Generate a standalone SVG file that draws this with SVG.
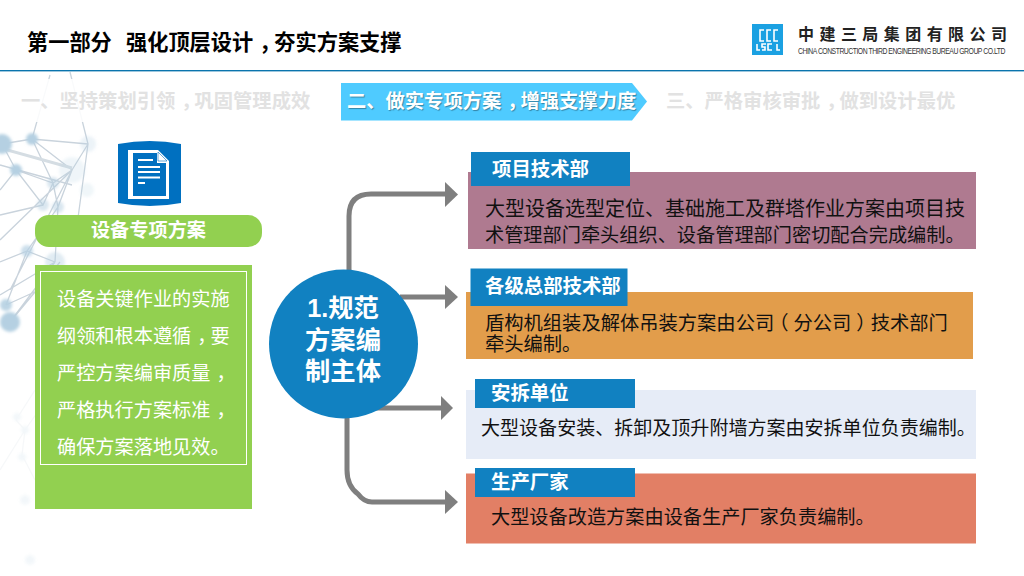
<svg xmlns="http://www.w3.org/2000/svg" width="1024" height="576" viewBox="0 0 1024 576">
<style>
text{font-family:"Liberation Sans","Noto Sans CJK SC",sans-serif}
.t{font-weight:700;font-size:21.2px;fill:#000}
.tab{font-weight:700;font-size:19.3px;fill:#e2e2e2}
.hd{font-weight:700;font-size:19.4px;fill:#fff}
.bd{font-size:19.3px;fill:#111}
.pn{font-size:19.2px;fill:#fff}
.ci{font-weight:700;font-size:25.3px;fill:#fff;text-anchor:middle}
.cm{letter-spacing:-6px}
.pr{letter-spacing:-5px}
.hb{fill:#1181c1}
.cn{fill:none;stroke:#7f7f7f;stroke-width:5}
.ah{fill:#7f7f7f}
.nw{stroke:#c9d3dc;stroke-width:1.3;fill:none}
.nd{fill:#b5d0e2}
</style>
<defs><filter id="b" x="-50%" y="-50%" width="200%" height="200%"><feGaussianBlur stdDeviation="1.500"/></filter></defs>
<rect width="1024" height="576" fill="#fff"/>
<g id="background">
<path class="nw" d="M2 144L32 139L88 144M2 144L16 170L53 183L72 170L32 139L53 183M16 170L0 190M16 170L43 205L53 183M53 183L58 207L27 251L0 262M72 170L88 144L70 72M32 139L50 75M72 170L58 207L55 262M43 205L0 215M27 251L6 305M55 262L10 322M27 251L55 262M72 170L10 290M0 240L72 170M10 322L60 262M6 305L50 285M0 165L72 185M88 144L75 240M0 295L55 262"/>
<path d="M0 148L72 168" stroke="#d5dde3" stroke-width="3" fill="none"/>
<g filter="url(#b)">
<circle class="nd" cx="2" cy="144" r="10"/><circle class="nd" cx="32" cy="139" r="6"/><circle class="nd" cx="16" cy="170" r="6"/><circle class="nd" cx="53" cy="183" r="6" opacity=".5"/><circle class="nd" cx="72" cy="170" r="13" opacity=".22"/><circle class="nd" cx="88" cy="144" r="8" opacity=".25"/><circle class="nd" cx="87" cy="190" r="7" opacity=".2"/><circle class="nd" cx="43" cy="205" r="6" opacity=".5"/><circle class="nd" cx="58" cy="207" r="6" opacity=".5"/><circle class="nd" cx="27" cy="251" r="6" opacity=".7"/><circle class="nd" cx="55" cy="262" r="10" opacity=".4"/><circle class="nd" cx="6" cy="305" r="6" opacity=".9"/><circle class="nd" cx="10" cy="322" r="10"/>
</g>
<g opacity=".16">
<path class="nw" d="M16 420L25 430L22 455L35 480M35 390L16 420M0 470L25 430M25 430L60 380"/>
<g filter="url(#b)"><circle class="nd" cx="17" cy="417" r="4"/><circle class="nd" cx="25" cy="430" r="4"/><circle class="nd" cx="22" cy="457" r="4"/><circle class="nd" cx="25" cy="500" r="5"/><circle class="nd" cx="30" cy="560" r="5"/></g>
</g>
<path d="M0 79H310L325 101L310 122H0Z" fill="#fff" opacity=".88"/>
</g>
<g id="header">
<text class="t" x="27" y="50">第一部分</text>
<text class="t" x="126" y="50">强化顶层设计<tspan class="cm" dx="6">，</tspan>夯实方案支撑</text>
<rect x="0" y="70" width="1024" height="1.400" fill="#0a74ad"/>
</g>
<g id="logo">
<rect x="752" y="24" width="31" height="31" fill="#1ba1e2"/>
<path d="M764 30H760V41H764M771 30H767V41H771M778 30H774V41H778M757 44V50H760M766 44H762V47H765V50H762M772 44H768V50H772M777 44V50H780" fill="none" stroke="#fff" stroke-width="1.600"/>
<text x="798" y="40" font-size="16" font-weight="700" fill="#222" textLength="209" lengthAdjust="spacing">中建三局集团有限公司</text>
<text transform="translate(798 54) scale(.72 1)" font-size="9.500" fill="#333" textLength="288" lengthAdjust="spacing">CHINA CONSTRUCTION THIRD ENGINEERING BUREAU GROUP CO.LTD</text>
</g>
<g id="tabs">
<text class="tab" x="21" y="108">一、坚持策划引领<tspan class="cm" dx="6">，</tspan>巩固管理成效</text>
<path d="M341 83H632L647 101.500L632 120.500H341Z" fill="#4fcbff"/>
<text class="tab" x="347" y="108" style="fill:#fff;text-shadow:1px 1px 1px rgba(0,0,0,.35)">二、做实专项方案<tspan class="cm" dx="6">，</tspan>增强支撑力度</text>
<text class="tab" x="666" y="108">三、严格审核审批<tspan class="cm" dx="6">，</tspan>做到设计最优</text>
</g>
<g id="doc-icon">
<path d="M118 144Q150 138 181 144V203Q150 209 118 203Z" fill="#0070c0"/>
<path d="M128 150H158L169 161V199H128Z" fill="#fff"/>
<path d="M133 153H157V163H166V196H133Z" fill="#0070c0"/>
<path d="M158 152L167 161H158Z" fill="#fff" stroke="#0070c0" stroke-width=".6"/>
<path d="M138 160H153M138 167H160M138 172H160M138 177.500H160M138 183H145" stroke="#fff" stroke-width="2" fill="none"/>
</g>
<g id="equipment-title">
<rect x="35" y="215" width="227" height="32" rx="14" fill="#92d050"/>
<text x="148.500" y="237" text-anchor="middle" font-size="19.200" font-weight="700" fill="#fff">设备专项方案</text>
</g>
<g id="equipment-panel">
<rect x="35" y="265" width="217" height="244" fill="#92d050"/>
<rect x="40.500" y="271.500" width="206" height="193" fill="none" stroke="#fff"/>
<text class="pn" x="57" y="306">设备关键作业的实施</text>
<text class="pn" x="57" y="343">纲领和根本遵循<tspan class="cm" dx="6">，</tspan>要</text>
<text class="pn" x="57" y="380">严控方案编审质量<tspan dx="6">，</tspan></text>
<text class="pn" x="57" y="417">严格执行方案标准<tspan dx="6">，</tspan></text>
<text class="pn" x="57" y="454">确保方案落地见效。</text>
</g>
<g id="connectors">
<path class="cn" d="M349 272V216Q349 194 371 194H446"/>
<path class="ah" d="M445 182L458 194.500L445 207Z"/>
<path class="cn" d="M400 297H446"/>
<path class="ah" d="M445 285L458 297L445 309Z"/>
<path class="cn" d="M375 408H441"/>
<path class="ah" d="M441 396L453 408L441 420Z"/>
<path class="cn" d="M347 418V470Q347 486 358 494Q364 502 372 502H446"/>
<path class="ah" d="M445 490L458 502L445 514Z"/>
</g>
<g id="center-circle">
<circle cx="343.500" cy="344" r="74.500" fill="#1181c1"/>
<text class="ci" x="343" y="317">1.规范</text>
<text class="ci" x="343" y="349">方案编</text>
<text class="ci" x="343" y="380">制主体</text>
</g>
<g id="box-project">
<rect x="468" y="172" width="508" height="77" fill="#af7a90"/>
<rect class="hb" x="471" y="152" width="159" height="34"/>
<text class="hd" x="492" y="176">项目技术部</text>
<text class="bd" x="485" y="216" style="font-size:20px">大型设备选型定位、基础施工及群塔作业方案由项目技</text>
<text class="bd" x="485" y="242" style="font-size:19.200px">术管理部门牵头组织、设备管理部门密切配合完成编制。</text>
</g>
<g id="box-hq">
<rect x="466" y="292" width="507" height="67" fill="#e29d4b"/>
<rect class="hb" x="470.500" y="268.500" width="157" height="37.500"/>
<text class="hd" x="485" y="293">各级总部技术部</text>
<text class="bd" x="485" y="330">盾构机组装及解体吊装方案由公<tspan class="pr">司</tspan>（<tspan dx="5">分公司</tspan><tspan class="pr" dx="5">）</tspan>技术部门</text>
<text class="bd" x="485" y="351">牵头编制。</text>
</g>
<g id="box-install">
<rect x="466" y="390" width="510" height="69" fill="#e6ecf7"/>
<rect class="hb" x="475" y="379" width="160" height="29"/>
<text class="hd" x="491" y="400">安拆单位</text>
<text class="bd" x="481" y="435" style="font-size:19.050px">大型设备安装、拆卸及顶升附墙方案由安拆单位负责编制。</text>
</g>
<g id="box-maker">
<rect x="466" y="473.500" width="510" height="70" fill="#e27f65"/>
<rect class="hb" x="475" y="468" width="160" height="29"/>
<text class="hd" x="491" y="489">生产厂家</text>
<text class="bd" x="491" y="524" style="font-size:19.200px">大型设备改造方案由设备生产厂家负责编制。</text>
</g>
</svg>
